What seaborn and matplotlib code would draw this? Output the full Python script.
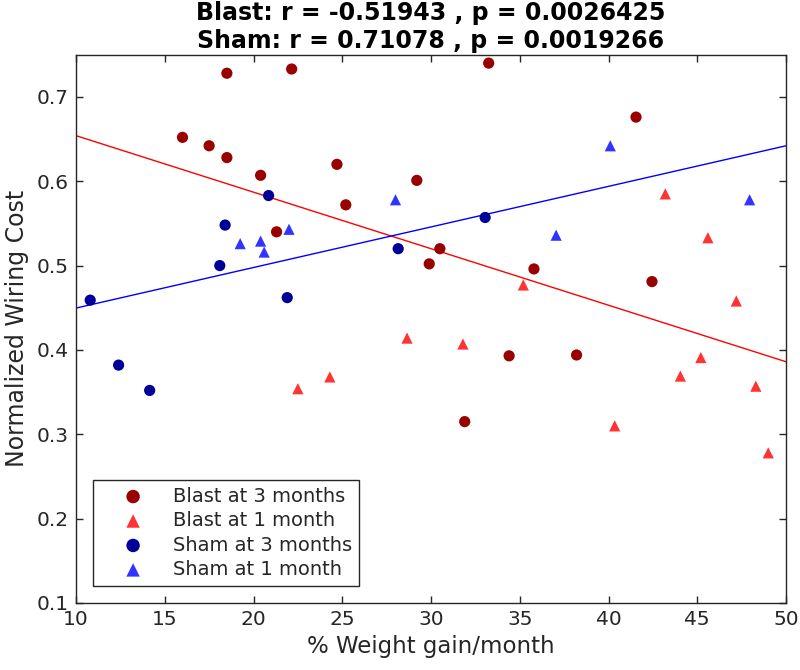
import matplotlib
matplotlib.use("Agg")
import matplotlib.pyplot as plt
import seaborn as sns
import pandas as pd

# ---- data ----
blast3_x = [16.0, 17.5, 18.5, 18.5, 20.4, 21.3, 22.15, 24.7, 25.2, 29.2, 29.9, 30.5, 31.9, 33.25, 34.4, 35.8, 38.2, 41.55, 42.45]
blast3_y = [0.652, 0.642, 0.728, 0.628, 0.607, 0.540, 0.733, 0.620, 0.572, 0.601, 0.502, 0.520, 0.315, 0.740, 0.393, 0.496, 0.394, 0.676, 0.481]

blast1_x = [22.5, 24.3, 28.65, 31.8, 35.2, 40.35, 43.2, 44.05, 45.2, 45.6, 47.2, 48.3, 49.0]
blast1_y = [0.354, 0.368, 0.414, 0.407, 0.477, 0.310, 0.585, 0.369, 0.391, 0.533, 0.458, 0.357, 0.278]

sham3_x = [10.8, 12.4, 14.15, 18.1, 18.4, 20.85, 21.9, 28.15, 33.05]
sham3_y = [0.459, 0.382, 0.352, 0.500, 0.548, 0.583, 0.462, 0.520, 0.557]

sham1_x = [19.25, 20.4, 20.6, 22.0, 28.0, 37.05, 40.1, 47.95]
sham1_y = [0.526, 0.529, 0.516, 0.543, 0.578, 0.536, 0.642, 0.578]

fit_x = [10, 50]
blast_fit = [0.654, 0.386]
sham_fit = [0.4496, 0.642]

labels = ["Blast at 3 months", "Blast at 1 month", "Sham at 3 months", "Sham at 1 month"]
x_ticks = [10, 15, 20, 25, 30, 35, 40, 45, 50]
y_ticks = [0.1, 0.2, 0.3, 0.4, 0.5, 0.6, 0.7]
title_lines = ["Blast: r = -0.51943 , p = 0.0026425", "Sham: r = 0.71078 , p = 0.0019266"]

# ---- styling ----
sns.set_theme(style="white")
plt.rcParams['font.family'] = ['DejaVu Sans']
plt.rcParams['axes.edgecolor'] = '#262626'
plt.rcParams['axes.linewidth'] = 1.0

fig = plt.figure(figsize=(8, 6.7), dpi=100)
ax = fig.add_axes([0.095, 0.1, 0.8875, 0.8184])

groups = [
    (blast3_x, blast3_y, labels[0], 'o', '#990000'),
    (blast1_x, blast1_y, labels[1], '^', '#FF3333'),
    (sham3_x, sham3_y, labels[2], 'o', '#000099'),
    (sham1_x, sham1_y, labels[3], '^', '#3333FF'),
]

# regression lines (drawn first, beneath points)
sns.lineplot(x=fit_x, y=blast_fit, color='#FF0000', linewidth=1.0, ax=ax, legend=False)
sns.lineplot(x=fit_x, y=sham_fit, color='#0000FF', linewidth=1.0, ax=ax, legend=False)

for gx, gy, lab, mk, col in groups:
    df = pd.DataFrame({'x': gx, 'y': gy})
    sns.scatterplot(data=df, x='x', y='y', marker=mk, color=col, s=65,
                    edgecolor='none', linewidth=0, ax=ax, label=lab, zorder=3)

ax.set_xlim(10, 50)
ax.set_ylim(0.1, 0.75)
ax.set_xticks(x_ticks)
ax.set_xticklabels([str(t) for t in x_ticks])
ax.set_yticks(y_ticks)
ax.set_yticklabels([f"{t:.1f}" for t in y_ticks])
ax.tick_params(axis='both', which='both', direction='in', length=5, width=1,
               top=True, right=True, bottom=True, left=True,
               labelsize=14.5, colors='#262626', pad=5)
for sp in ax.spines.values():
    sp.set_visible(True)
    sp.set_color('#262626')

ax.set_xlabel("% Weight gain/month", fontsize=16.5, color='#262626', labelpad=4)
ax.set_ylabel("Normalized Wiring Cost", fontsize=17, color='#262626', labelpad=6)
ax.set_title("\n".join(title_lines), fontsize=17, fontweight='bold', color='black',
             pad=5, linespacing=1.2)

leg = ax.legend(loc='lower left', bbox_to_anchor=(0.024, 0.031), borderaxespad=0,
                fontsize=14, frameon=True, fancybox=False, framealpha=1,
                edgecolor='#262626', handletextpad=0.35, labelspacing=0.28,
                borderpad=0.36, handlelength=3.4, markerscale=1.2)
leg.get_frame().set_linewidth(1.0)

fig.savefig("out.png", dpi=100)
